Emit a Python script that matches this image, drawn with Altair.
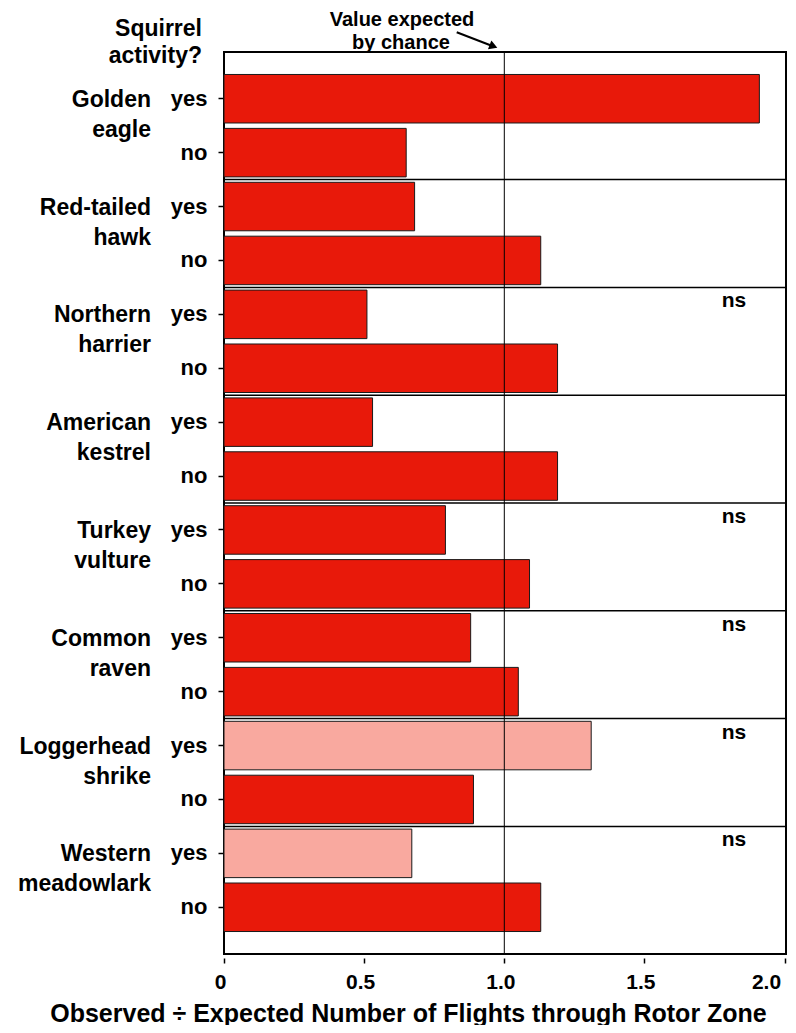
import altair as alt
import pandas as pd

# ---------------- data ----------------
species = ["Golden eagle", "Red-tailed hawk", "Northern harrier", "American kestrel",
           "Turkey vulture", "Common raven", "Loggerhead shrike", "Western meadowlark"]
name_line1 = ["Golden", "Red-tailed", "Northern", "American", "Turkey", "Common",
              "Loggerhead", "Western"]
name_line2 = ["eagle", "hawk", "harrier", "kestrel", "vulture", "raven", "shrike",
              "meadowlark"]
yes_vals = [1.91, 0.68, 0.51, 0.53, 0.79, 0.88, 1.31, 0.67]
no_vals = [0.65, 1.13, 1.19, 1.19, 1.09, 1.05, 0.89, 1.13]
ns_flags = [False, False, True, False, True, True, True, True]
pale_yes = [False, False, False, False, False, False, True, True]
x_ticks = [0, 0.5, 1.0, 1.5, 2.0]
chance_value = [1.0]
header_lines = ["Squirrel", "activity?"]
annotation_lines = ["Value expected", "by chance"]
x_title = "Observed \u00f7 Expected Number of Flights through Rotor Zone"

rows = []
for i, sp in enumerate(species):
    for ans, val in (("yes", yes_vals[i]), ("no", no_vals[i])):
        rows.append(dict(
            row=f"{sp}|{ans}", species=sp, answer=ans, value=val,
            shade="pale" if (ans == "yes" and pale_yes[i]) else "solid",
            line1=name_line1[i], line2=name_line2[i],
            ns="ns" if (ans == "yes" and ns_flags[i]) else "",
            last=(i == len(species) - 1),
        ))
df = pd.DataFrame(rows)
order = list(df["row"])

FONT = "Liberation Sans"
RED = "#E8190A"
PINK = "#F9A99F"

yscale = alt.Scale(domain=order, paddingInner=0.1, paddingOuter=0.417)
xscale = alt.Scale(domain=[0, 2.005], nice=False, zero=True)

base = alt.Chart(df)

bars = base.mark_bar(stroke="#1a1a1a", strokeWidth=1).encode(
    x=alt.X("value:Q", scale=xscale,
            axis=alt.Axis(values=x_ticks,
                          labelExpr="datum.value == 0 ? '0' : format(datum.value, '.1f')",
                          labelAlign=alt.ExprRef("datum.value >= 2 ? 'right' : 'center'"),
                          labelOffset=-4,
                          title=x_title, grid=False, domain=False, offset=4,
                          tickSize=5, tickColor="black", tickWidth=1.5,
                          labelPadding=8, labelFont=FONT, labelFontSize=21,
                          labelFontWeight="bold", labelColor="black",
                          titleFont=FONT, titleFontSize=25, titleFontWeight="bold",
                          titleColor="black", titleX=184, titleY=63,
                          titleAlign="center", titleBaseline="alphabetic")),
    y=alt.Y("row:N", scale=yscale, sort=None,
            axis=alt.Axis(title=None, labelExpr="split(datum.value, '|')[1]",
                          domain=False, grid=False, tickSize=6, tickColor="black",
                          tickWidth=1.5, labelPadding=11, labelFont=FONT,
                          labelFontSize=22, labelFontWeight="bold",
                          labelColor="black")),
    color=alt.Color("shade:N", scale=alt.Scale(domain=["solid", "pale"], range=[RED, PINK]),
                    legend=None),
)

vline = alt.Chart(pd.DataFrame({"ref": chance_value})).mark_rule(
    color="black", strokeWidth=1).encode(x=alt.X("ref:Q", scale=xscale))

separators = base.transform_filter("datum.answer == 'no' && !datum.last").mark_rule(
    color="black", strokeWidth=1.5, yOffset=26.95).encode(
    y=alt.Y("row:N", scale=yscale, sort=None))

name1 = base.transform_filter("datum.answer == 'yes'").mark_text(
    align="right", baseline="alphabetic", dy=8, font=FONT, fontSize=23,
    fontWeight="bold", color="black").encode(
    y=alt.Y("row:N", scale=yscale, sort=None), x=alt.value(-73), text="line1:N")

name2 = base.transform_filter("datum.answer == 'yes'").mark_text(
    align="right", baseline="alphabetic", dy=38, font=FONT, fontSize=23,
    fontWeight="bold", color="black").encode(
    y=alt.Y("row:N", scale=yscale, sort=None), x=alt.value(-73), text="line2:N")

ns_text = base.transform_filter("datum.ns != ''").mark_text(
    align="center", baseline="alphabetic", dy=-7, font=FONT, fontSize=21,
    fontWeight="bold", color="black").encode(
    y=alt.Y("row:N", scale=yscale, sort=None), x=alt.value(510), text="ns:N")


def label(txt, x, y, align, size):
    return alt.Chart(pd.DataFrame({"t": [txt]})).mark_text(
        align=align, baseline="alphabetic", font=FONT, fontSize=size,
        fontWeight="bold", color="black").encode(
        text="t:N", x=alt.value(x), y=alt.value(y))


head1 = label(header_lines[0], -22, -16, "right", 23)
head2 = label(header_lines[1], -22, 11, "right", 23)
ann1 = label(annotation_lines[0], 178, -26, "center", 20)
ann2 = label(annotation_lines[1], 177, -3, "center", 20)

one = pd.DataFrame({"t": [""]})
arrow_line = alt.Chart(one).mark_rule(color="black", strokeWidth=2).encode(
    x=alt.value(232.7), y=alt.value(-19.7), x2=alt.value(269), y2=alt.value(-5.8))
arrow_head = alt.Chart(one).mark_point(
    shape="triangle-right", filled=True, size=90, angle=21, color="black",
    opacity=1).encode(x=alt.value(269.5), y=alt.value(-5.6))

chart = alt.layer(
    bars, vline, separators, name1, name2, ns_text,
    head1, head2, ann1, ann2, arrow_line, arrow_head
).properties(
    width=562, height=902,
    autosize=alt.AutoSizeParams(type="none"),
    padding={"left": 216, "top": 44, "right": 2, "bottom": 71},
).configure_view(stroke="black", strokeWidth=2)

chart.save("out.html", embed_options={"renderer": "svg", "actions": False})
